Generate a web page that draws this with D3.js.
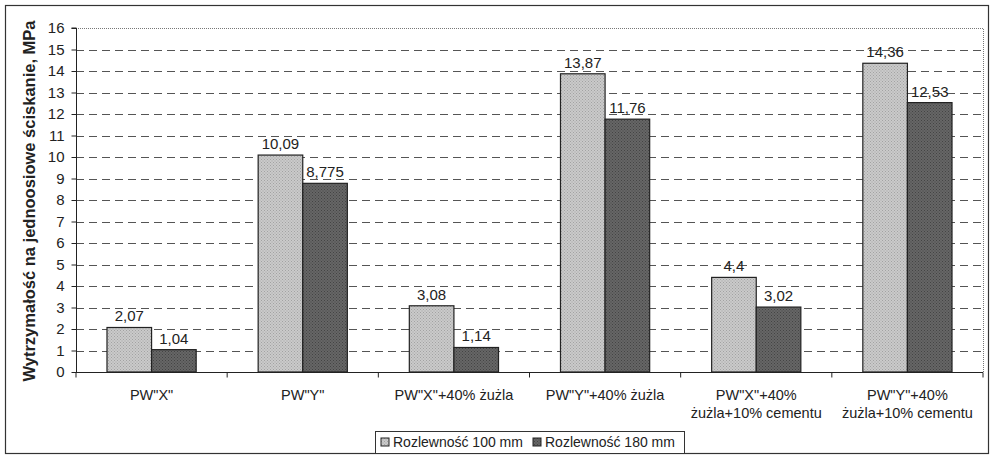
<!DOCTYPE html>
<html>
<head>
<meta charset="utf-8">
<script src="https://cdn.jsdelivr.net/npm/d3@7"></script>
<style>
  html, body { margin: 0; padding: 0; background: #fff; }
  svg { display: block; font-family: Arial, "Liberation Sans", sans-serif; }
</style>
</head>
<body>
<svg id="chart" width="994" height="459"></svg>
<script>
// Compressive strength for each mix, two flowability series
const categories = [
  ["PW\"X\""],
  ["PW\"Y\""],
  ["PW\"X\"+40% żużla"],
  ["PW\"Y\"+40% żużla"],
  ["PW\"X\"+40%", "żużla+10% cementu"],
  ["PW\"Y\"+40%", "żużla+10% cementu"]
];
const seriesNames = ["Rozlewność 100 mm", "Rozlewność 180 mm"];
const values100 = [2.07, 10.09, 3.08, 13.87, 4.4, 14.36];
const values180 = [1.04, 8.775, 1.14, 11.76, 3.02, 12.53];
const valueLabels100 = ["2,07", "10,09", "3,08", "13,87", "4,4", "14,36"];
const valueLabels180 = ["1,04", "8,775", "1,14", "11,76", "3,02", "12,53"];
const yTicks = d3.range(0, 17, 1);

const svg = d3.select("#chart");
const plot = { left: 76, right: 983, top: 28, bottom: 372 };

// Textured fills for the two series
const defs = svg.append("defs");
function dotPattern(id, base, dot) {
  const p = defs.append("pattern")
    .attr("id", id).attr("patternUnits", "userSpaceOnUse")
    .attr("width", 3).attr("height", 3);
  p.append("rect").attr("width", 3).attr("height", 3).attr("fill", base);
  p.append("rect").attr("x", 0).attr("y", 0).attr("width", 1).attr("height", 1).attr("fill", dot);
  p.append("rect").attr("x", 1.5).attr("y", 1.5).attr("width", 1).attr("height", 1).attr("fill", dot);
}
dotPattern("fill100", "#cacaca", "#a2a2a2");
dotPattern("fill180", "#666", "#444");
const fills = ["url(#fill100)", "url(#fill180)"];

// Outer frame
svg.append("rect")
  .attr("x", 5.5).attr("y", 5.5).attr("width", 983).attr("height", 448)
  .attr("fill", "none").attr("stroke", "#333").attr("stroke-width", 1.2);

const x = d3.scaleBand()
  .domain(d3.range(categories.length))
  .range([plot.left, plot.right])
  .paddingInner(0).paddingOuter(0);

const y = d3.scaleLinear().domain([0, 16]).range([plot.bottom, plot.top]);

const groupFrac = 0.59;
const xs = d3.scaleBand()
  .domain([0, 1])
  .range([0, x.bandwidth() * groupFrac]);

// Gridlines
svg.append("g").selectAll("line")
  .data(yTicks.filter(t => t > 0 && t < 16))
  .join("line")
  .attr("x1", plot.left).attr("x2", plot.right)
  .attr("y1", d => Math.round(y(d)) + 0.5).attr("y2", d => Math.round(y(d)) + 0.5)
  .attr("stroke", "#555").attr("stroke-width", 1)
  .attr("stroke-dasharray", "8,5");

// Plot area border (top and right, dotted)
svg.append("path")
  .attr("d", `M${plot.left},${y(16) + 0.5}H${plot.right + 0.5}V${plot.bottom}`)
  .attr("fill", "none").attr("stroke", "#777").attr("stroke-width", 1)
  .attr("stroke-dasharray", "1,1");

// Bars
const seriesVals = [values100, values180];
const seriesLabels = [valueLabels100, valueLabels180];
const groups = svg.append("g");
categories.forEach((c, i) => {
  const gx = x(i) + (x.bandwidth() * (1 - groupFrac)) / 2;
  [0, 1].forEach(s => {
    const v = seriesVals[s][i];
    groups.append("rect")
      .attr("x", gx + xs(s))
      .attr("y", y(v))
      .attr("width", xs.bandwidth())
      .attr("height", y(0) - y(v))
      .attr("fill", fills[s])
      .attr("stroke", "#222").attr("stroke-width", 1.2);
    groups.append("text")
      .attr("x", gx + xs(s) + xs.bandwidth() / 2)
      .attr("y", y(v) - 6)
      .attr("text-anchor", "middle")
      .attr("font-size", 15)
      .attr("fill", "#222")
      .text(seriesLabels[s][i]);
  });
});

// Y axis
const yAxis = svg.append("g")
  .attr("transform", `translate(${plot.left + 0.5},0)`)
  .call(d3.axisLeft(y).tickValues(yTicks).tickSize(5).tickPadding(7).tickFormat(d3.format("d")));
yAxis.select(".domain").attr("stroke", "#222").attr("d", `M-5,${y(16)}H0V${y(0)}`);
yAxis.selectAll(".tick line").attr("stroke", "#222");
yAxis.selectAll(".tick text").attr("font-size", 15).attr("fill", "#222")
  .attr("font-family", "Arial, 'Liberation Sans', sans-serif");

// X axis
const xAxis = svg.append("g")
  .attr("transform", `translate(0,${plot.bottom + 0.5})`);
xAxis.append("line")
  .attr("x1", plot.left).attr("x2", plot.right)
  .attr("stroke", "#222").attr("stroke-width", 1.2);
xAxis.selectAll("line.tk")
  .data(d3.range(categories.length + 1))
  .join("line").attr("class", "tk")
  .attr("x1", d => d < categories.length ? x(d) : plot.right)
  .attr("x2", d => d < categories.length ? x(d) : plot.right)
  .attr("y1", 0).attr("y2", 5)
  .attr("stroke", "#222");
const catText = xAxis.selectAll("text.cat")
  .data(categories)
  .join("text").attr("class", "cat")
  .attr("x", (d, i) => x(i) + x.bandwidth() / 2)
  .attr("y", 27)
  .attr("text-anchor", "middle")
  .attr("font-size", 14.5)
  .attr("fill", "#222");
catText.selectAll("tspan")
  .data(d => d)
  .join("tspan")
  .attr("x", function () { return d3.select(this.parentNode).attr("x"); })
  .attr("dy", (d, j) => j === 0 ? 0 : 18)
  .text(d => d);

// Y axis title
svg.append("text")
  .attr("transform", `translate(35,${(plot.top + plot.bottom) / 2 + 1}) rotate(-90)`)
  .attr("text-anchor", "middle")
  .attr("font-size", 16.5)
  .attr("font-weight", "bold")
  .attr("fill", "#222")
  .text("Wytrzymałość na jednoosiowe ściskanie, MPa");

// Legend
const legend = svg.append("g");
const lgX = 375, lgY = 431, lgW = 309, lgH = 22;
legend.append("rect")
  .attr("x", lgX + 0.5).attr("y", lgY + 0.5).attr("width", lgW).attr("height", lgH)
  .attr("fill", "#fff").attr("stroke", "#333");
const itemX = [lgX + 6, lgX + 158];
seriesNames.forEach((n, s) => {
  legend.append("rect")
    .attr("x", itemX[s]).attr("y", lgY + 7).attr("width", 8).attr("height", 8)
    .attr("fill", fills[s]).attr("stroke", "#222");
  legend.append("text")
    .attr("x", itemX[s] + 12).attr("y", lgY + 16)
    .attr("font-size", 14).attr("fill", "#222")
    .text(n);
});
</script>
</body>
</html>
